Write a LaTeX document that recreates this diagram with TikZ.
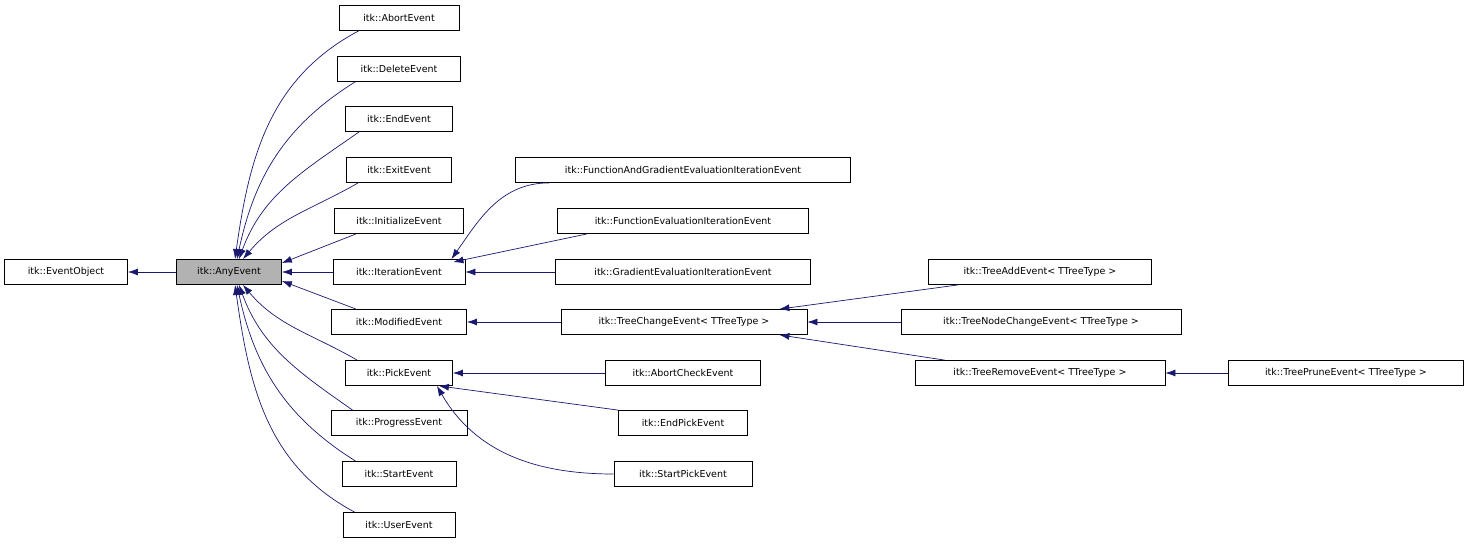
\documentclass[tikz,border=0pt]{standalone}
\usepackage{fontspec}
\setmainfont{DejaVu Sans}
\usetikzlibrary{arrows.meta,calc}
\definecolor{edgec}{RGB}{25,25,112}
\begin{document}
\begin{tikzpicture}[x=1pt,y=-1pt,
  box/.style={draw=black,fill=white,minimum height=25pt,inner sep=0pt,font=\fontsize{9.5}{11}\selectfont,line width=0.8pt},
  edge/.style={draw=edgec,line width=0.7pt,{Latex[length=10pt,width=7pt]}-}]
\useasboundingbox (0,0) rectangle (1469,544);
\newcommand{\bx}[5]{\node[box,minimum width=#3pt,#5] (#1) at (#2) {#4};}
\bx{eo}{66,272}{123}{itk::EventObject}{}
\bx{any}{229,272}{105}{itk::AnyEvent}{fill=black!30}
\bx{abort}{399,18}{120}{itk::AbortEvent}{}
\bx{del}{399,69}{123}{itk::DeleteEvent}{}
\bx{end}{399,119}{107}{itk::EndEvent}{}
\bx{exit}{399,170}{105}{itk::ExitEvent}{}
\bx{init}{399,221}{129}{itk::InitializeEvent}{}
\bx{iter}{399,272}{132}{itk::IterationEvent}{}
\bx{mod}{399,322}{135}{itk::ModifiedEvent}{}
\bx{pick}{399,373}{107}{itk::PickEvent}{}
\bx{prog}{399,423}{136}{itk::ProgressEvent}{}
\bx{start}{399,474}{114}{itk::StartEvent}{}
\bx{user}{399,525}{112}{itk::UserEvent}{}
\bx{fag}{683,170}{335}{itk::FunctionAndGradientEvaluationIterationEvent}{}
\bx{fe}{683,221}{251}{itk::FunctionEvaluationIterationEvent}{}
\bx{ge}{683,272}{255}{itk::GradientEvaluationIterationEvent}{}
\bx{tc}{684,322}{246}{itk::TreeChangeEvent< TTreeType >}{}
\bx{ac}{683,373}{155}{itk::AbortCheckEvent}{}
\bx{ep}{683,423}{129}{itk::EndPickEvent}{}
\bx{sp}{683,474}{138}{itk::StartPickEvent}{}
\bx{ta}{1040,272}{223}{itk::TreeAddEvent< TTreeType >}{}
\bx{tn}{1041,322}{280}{itk::TreeNodeChangeEvent< TTreeType >}{}
\bx{tr}{1040,373}{250}{itk::TreeRemoveEvent< TTreeType >}{}
\bx{tp}{1346,373}{235}{itk::TreePruneEvent< TTreeType >}{}
% edges
\draw[edge] (eo.east) -- (any.west);
\draw[edge] ($(any.north)+(6,0)$) to[out=-78+160,in=-152] ($(abort.south west)+(20,0)$);
\draw[edge] ($(any.north)+(8,0)$) to[out=78,in=-148] ($(del.south west)+(18,0)$);
\draw[edge] ($(any.north)+(10,0)$) to[out=70,in=-145] ($(end.south west)+(14,0)$);
\draw[edge] ($(any.north)+(14,0)$) to[out=50,in=-150] ($(exit.south west)+(12,0)$);
\draw[edge] ($(any.east)+(0,-9)$) -- ($(init.south west)+(22,0)$);
\draw[edge] (any.east) -- (iter.west);
\draw[edge] ($(any.east)+(0,9)$) -- ($(mod.north west)+(25,0)$);
\draw[edge] ($(any.south)+(14,0)$) to[out=-50,in=150] ($(pick.north west)+(12,0)$);
\draw[edge] ($(any.south)+(10,0)$) to[out=-70,in=145] ($(prog.north west)+(22,0)$);
\draw[edge] ($(any.south)+(8,0)$) to[out=-78,in=148] ($(start.north west)+(14,0)$);
\draw[edge] ($(any.south)+(6,0)$) to[out=-82,in=152] ($(user.north west)+(12,0)$);
\draw[edge] ($(iter.north east)+(-14,0)$) to[out=55,in=180] ($(fag.south west)+(34,0)$);
\draw[edge] ($(iter.east)+(-12,-10)$) -- ($(fe.south west)+(30,0)$);
\draw[edge] (iter.east) -- (ge.west);
\draw[edge] (mod.east) -- (tc.west);
\draw[edge] ($(tc.north east)+(-28,0)$) -- ($(ta.south west)+(30,0)$);
\draw[edge] (tc.east) -- (tn.west);
\draw[edge] ($(tc.south east)+(-28,0)$) -- ($(tr.north west)+(30,0)$);
\draw[edge] (tr.east) -- (tp.west);
\draw[edge] (pick.east) -- (ac.west);
\draw[edge] ($(pick.south east)+(-14,0)$) -- ($(ep.north west)+(0,0)$);
\draw[edge] ($(pick.south east)+(-16,0)$) to[out=-60,in=180] (sp.west);
\end{tikzpicture}
\end{document}
